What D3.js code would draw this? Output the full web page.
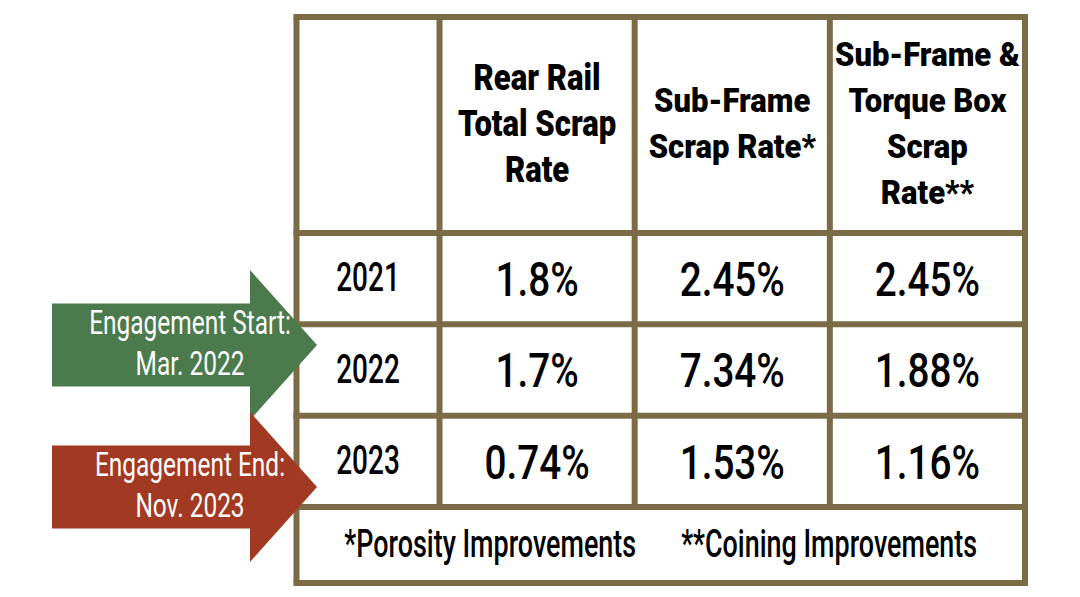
<!DOCTYPE html>
<html>
<head>
<meta charset="utf-8">
<script src="https://cdn.jsdelivr.net/npm/d3@7"></script>
<style>
  html, body { margin: 0; padding: 0; background: #fff; }
  svg { display: block; }
  text { font-family: "Roboto", "DejaVu Sans", sans-serif; }
</style>
</head>
<body>
<svg id="chart" width="1080" height="597"></svg>
<script>
// table content
const years = ["2021", "2022", "2023"]
const columns = ["rearRail", "subFrame", "subFrameTorque"]
const headerLines = [
  ["Rear Rail", "Total Scrap", "Rate"],
  ["Sub-Frame", "Scrap Rate*"],
  ["Sub-Frame &", "Torque Box", "Scrap", "Rate**"]
]
const rearRail = [1.8, 1.7, 0.74]
const subFrame = [2.45, 7.34, 1.53]
const subFrameTorque = [2.45, 1.88, 1.16]
const footnotes = ["*Porosity Improvements", "**Coining Improvements"]

// arrows on the left
const arrowLabels = [
  ["Engagement Start:", "Mar. 2022"],
  ["Engagement End:", "Nov. 2023"]
]
const arrowColors = ["#4b7a4d", "#a23a23"]

const svg = d3.select("#chart")
const border = "#7b6b47"
const lineW = 6

// geometry of the grid
const gridLeft = 296.5, firstColRight = 439.5, gridRight = 1025
const gridTop = 17, headerBottom = 233, rowsBottom = 507, gridBottom = 583

const x = d3.scaleBand().domain(columns).range([firstColRight, gridRight])
const y = d3.scaleBand().domain(years).range([headerBottom, rowsBottom])

const values = { rearRail, subFrame, subFrameTorque }

const table = svg.append("g")

// cells background
table.append("rect")
  .attr("x", gridLeft).attr("y", gridTop)
  .attr("width", gridRight - gridLeft).attr("height", gridBottom - gridTop)
  .attr("fill", "#fff")

// grid lines: verticals
const vx = [gridLeft, firstColRight].concat(columns.map(c => x(c) + x.bandwidth()))
table.selectAll("line.v")
  .data(vx)
  .join("line")
  .attr("class", "v")
  .attr("x1", d => d).attr("x2", d => d)
  .attr("y1", gridTop).attr("y2", (d, i) => (i === 0 || i === vx.length - 1) ? gridBottom : rowsBottom)
  .attr("stroke", border).attr("stroke-width", lineW)

// horizontals
const hy = [gridTop, headerBottom].concat(years.map(yr => y(yr) + y.bandwidth())).concat([gridBottom])
table.selectAll("line.h")
  .data(hy)
  .join("line")
  .attr("class", "h")
  .attr("x1", gridLeft - lineW / 2).attr("x2", gridRight + lineW / 2)
  .attr("y1", d => d).attr("y2", d => d)
  .attr("stroke", border).attr("stroke-width", lineW)

// Roboto is much wider than the condensed face of the original, squeeze it
function condensedText(g, str, cx, cy, size, weight, sx) {
  return g.append("text")
    .attr("transform", `translate(${cx},${cy}) scale(${sx},1)`)
    .attr("text-anchor", "middle")
    .attr("font-size", size)
    .attr("font-weight", weight)
    .attr("fill", "#000")
    .text(str)
}

// header text
const headerCenter = 123
const lineStep = 46
columns.forEach((c, ci) => {
  const lines = headerLines[ci]
  const size = ci === 0 ? 37 : 33
  const cap = size * 0.711
  const cx = x(c) + x.bandwidth() / 2
  lines.forEach((ln, li) => {
    const base = headerCenter + cap / 2 + (li - (lines.length - 1) / 2) * lineStep
    condensedText(table, ln, cx, base, size, "900", ci === 0 ? 0.84 : 0.94)
  })
})

// year labels
years.forEach(yr => {
  const cy = y(yr) + y.bandwidth() / 2
  condensedText(table, yr, (gridLeft + firstColRight) / 2, cy - 1.5 + 40 * 0.711 / 2, 40, "500", 0.7)
})

// values
columns.forEach(c => {
  values[c].forEach((v, i) => {
    const cy = y(years[i]) + y.bandwidth() / 2
    condensedText(table, v + "%", x(c) + x.bandwidth() / 2, cy + 49 * 0.711 / 2, 49, "500", 0.79)
  })
})

// footnote row
const footG = table.append("g")
const footSize = 39
const footSx = 0.69
const footCy = (rowsBottom + gridBottom) / 2 - 2 + footSize * 0.711 / 2
const gap = 45
const footTexts = footnotes.map(f => footG.append("text")
  .attr("font-size", footSize)
  .attr("font-weight", "500")
  .attr("fill", "#000")
  .text(f))
const widths = footTexts.map(t => t.node().getComputedTextLength() * footSx)
const totalW = widths[0] + widths[1] + gap
let fx = (gridLeft + gridRight) / 2 - totalW / 2
footTexts.forEach((t, i) => {
  t.attr("transform", `translate(${fx},${footCy}) scale(${footSx},1)`)
  fx += widths[i] + gap
})

// arrows
const arrowLeft = 52, shaftRight = 250, tipX = 317
const tipYs = [345, 487]
const shaftHalf = 41.5, headHalf = 75
const arrows = svg.append("g")
arrowLabels.forEach((labels, i) => {
  const ty = tipYs[i]
  const pts = [
    [arrowLeft, ty - shaftHalf], [shaftRight, ty - shaftHalf], [shaftRight, ty - headHalf],
    [tipX, ty], [shaftRight, ty + headHalf], [shaftRight, ty + shaftHalf], [arrowLeft, ty + shaftHalf]
  ]
  const g = arrows.append("g")
  g.append("path")
    .attr("d", d3.line()(pts) + "Z")
    .attr("fill", arrowColors[i])
  labels.forEach((ln, li) => {
    g.append("text")
      .attr("transform", `translate(190,${ty - 11 + li * 41}) scale(0.73,1)`)
      .attr("text-anchor", "middle")
      .attr("font-size", 33.5)
      .attr("fill", "#fff")
      .text(ln)
  })
})
</script>
</body>
</html>
